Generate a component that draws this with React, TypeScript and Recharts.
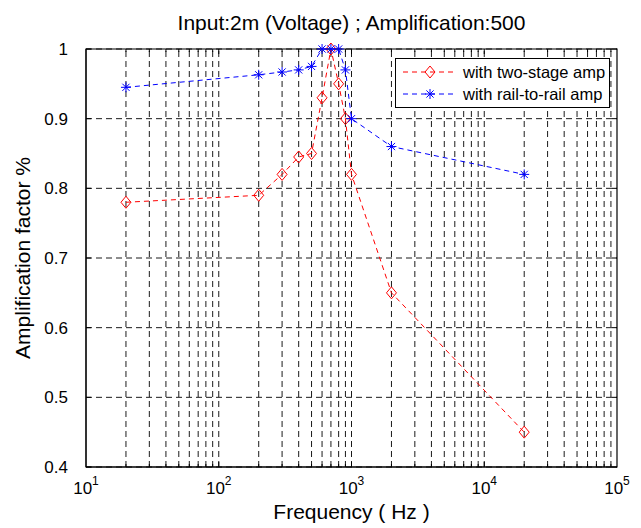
import React from "react";
import {
  LineChart, Line, XAxis, YAxis, CartesianGrid, ReferenceLine, ReferenceArea,
} from "recharts";

const FONT = "'Liberation Sans', Arial, Helvetica, sans-serif";

// two-stage amp (red diamonds)
const freqTwoStage = [20, 200, 300, 400, 500, 600, 700, 800, 900, 1000, 2000, 20000];
const ampTwoStage = [0.78, 0.79, 0.82, 0.845, 0.85, 0.93, 1.0, 0.95, 0.9, 0.82, 0.65, 0.45];

// rail-to-rail amp (blue stars)
const freqRail = [20, 200, 300, 400, 500, 600, 700, 800, 900, 1000, 2000, 20000];
const ampRail = [0.945, 0.963, 0.967, 0.97, 0.975, 1.0, 1.0, 1.0, 0.97, 0.9, 0.86, 0.82];

const xTicks = [10, 100, 1000, 10000, 100000];
const yTicks = [0.4, 0.5, 0.6, 0.7, 0.8, 0.9, 1];

// log grid: 2..9 x each decade plus the decades themselves
const xGrid: number[] = [];
for (let d = 10; d < 100000; d *= 10) {
  for (let m = 1; m <= 9; m++) if (!(d === 10 && m === 1)) xGrid.push(d * m);
}

const twoStage = freqTwoStage.map((x, i) => ({ x, y: ampTwoStage[i] }));
const rail = freqRail.map((x, i) => ({ x, y: ampRail[i] }));

const RED = "#ff0000";
const BLUE = "#0000ff";

// plot box
const W = 641, H = 528;
const L = 86, R = 617, T = 49, B = 467;
const PX_Y = 0.6 / (B - T); // value per pixel on y
const PX_X = 4 / (R - L);   // decades per pixel on x

function Diamond({ cx, cy, stroke = RED }: any) {
  if (cx == null || cy == null) return null;
  return (
    <polygon
      points={`${cx},${cy - 6} ${cx + 5},${cy} ${cx},${cy + 6} ${cx - 5},${cy}`}
      fill="none" stroke={stroke} strokeWidth={1}
    />
  );
}

function Star({ cx, cy, stroke = BLUE }: any) {
  if (cx == null || cy == null) return null;
  const r = 5, d = 3.6;
  return (
    <g stroke={stroke} strokeWidth={1}>
      <line x1={cx - r} y1={cy} x2={cx + r} y2={cy} />
      <line x1={cx} y1={cy - r} x2={cx} y2={cy + r} />
      <line x1={cx - d} y1={cy - d} x2={cx + d} y2={cy + d} />
      <line x1={cx - d} y1={cy + d} x2={cx + d} y2={cy - d} />
    </g>
  );
}

function PowTick({ x, y, payload }: any) {
  const exp = Math.round(Math.log10(payload.value));
  return (
    <text x={x} y={y + 19} textAnchor="middle" fontFamily={FONT} fontSize={17} fill="#000">
      <tspan>10</tspan>
      <tspan dy={-9} fontSize={12}>{exp}</tspan>
    </text>
  );
}

function LegendBox() {
  const row = (color: string, marker: React.ReactNode, label: string) => (
    <div style={{ display: "flex", alignItems: "center", height: 22 }}>
      <svg width={56} height={16} style={{ marginRight: 6 }}>
        <line x1={2} y1={8} x2={54} y2={8} stroke={color} strokeDasharray="5 4" />
        {marker}
      </svg>
      <span style={{ fontFamily: FONT, fontSize: 16.5, color: "#000" }}>{label}</span>
    </div>
  );
  return (
    <div style={{
      position: "absolute", left: 395, top: 58, width: 215, height: 50,
      border: "1px solid #000", background: "#fff", padding: "2px 0 0 5px",
      boxSizing: "border-box",
    }}>
      {row(RED, <Diamond cx={29} cy={8} />, "with two-stage amp")}
      {row(BLUE, <Star cx={29} cy={8} />, "with rail-to-rail amp")}
    </div>
  );
}

export default function App() {
  // small inside tick marks on the box edges
  const majY = 5 * PX_Y, minY = 3 * PX_Y;
  const tickX = (px: number) => 10 * Math.pow(10, px * PX_X);
  const tickXr = (px: number) => 100000 / Math.pow(10, px * PX_X);

  return (
    <div style={{ position: "absolute", left: 0, top: 0, width: W, height: H, background: "#fff" }}>
      <LineChart
        width={W}
        height={H}
        margin={{ top: T, right: W - R, bottom: 21, left: 26 }}
      >
        <CartesianGrid
          vertical={false}
          stroke="#000"
          strokeDasharray="6 4"
          strokeWidth={0.9}
        />
        {xGrid.map((v) => (
          <ReferenceLine
            key={v}
            x={v}
            stroke="#000"
            strokeWidth={0.9}
            strokeDasharray="6 4"
            ifOverflow="hidden"
          />
        ))}
        {xGrid.map((v) => {
          const len = xTicks.includes(v) ? majY : minY;
          return (
            <React.Fragment key={"t" + v}>
              <ReferenceLine segment={[{ x: v, y: 0.4 }, { x: v, y: 0.4 + len }]} stroke="#000" />
              <ReferenceLine segment={[{ x: v, y: 1 }, { x: v, y: 1 - len }]} stroke="#000" />
            </React.Fragment>
          );
        })}
        {yTicks.map((v) => (
          <React.Fragment key={"y" + v}>
            <ReferenceLine segment={[{ x: 10, y: v }, { x: tickX(5), y: v }]} stroke="#000" />
            <ReferenceLine segment={[{ x: 100000, y: v }, { x: tickXr(5), y: v }]} stroke="#000" />
          </React.Fragment>
        ))}
        <XAxis
          dataKey="x"
          type="number"
          scale="log"
          domain={[10, 100000]}
          ticks={xTicks}
          allowDataOverflow
          height={40}
          tick={<PowTick />}
          tickLine={false}
          axisLine={{ stroke: "#000" }}
        />
        <YAxis
          dataKey="y"
          type="number"
          domain={[0.4, 1]}
          ticks={yTicks}
          width={60}
          tickLine={false}
          axisLine={{ stroke: "#000" }}
          tick={{ fontFamily: FONT, fontSize: 17, fill: "#000" }}
          tickMargin={12}
        />
        <ReferenceArea
          x1={10} x2={100000} y1={0.4} y2={1}
          fill="none" stroke="#000" strokeWidth={1.2}
        />
        <Line
          data={twoStage}
          dataKey="y"
          stroke={RED}
          strokeWidth={1}
          strokeDasharray="5 4"
          dot={(p: any) => <Diamond key={p.index} cx={p.cx} cy={p.cy} />}
          isAnimationActive={false}
        />
        <Line
          data={rail}
          dataKey="y"
          stroke={BLUE}
          strokeWidth={1}
          strokeDasharray="5 4"
          dot={(p: any) => <Star key={p.index} cx={p.cx} cy={p.cy} />}
          isAnimationActive={false}
        />
      </LineChart>
      <svg width={W} height={H} style={{ position: "absolute", left: 0, top: 0, pointerEvents: "none" }}>
        <text x={(L + R) / 2} y={30} textAnchor="middle" fontFamily={FONT} fontSize={21} fill="#000">
          Input:2m (Voltage) ; Amplification:500
        </text>
        <text x={(L + R) / 2} y={519} textAnchor="middle" fontFamily={FONT} fontSize={21} fill="#000">
          Frequency ( Hz )
        </text>
        <text
          x={0} y={0}
          transform={`translate(30, ${(T + B) / 2}) rotate(-90)`}
          textAnchor="middle" fontFamily={FONT} fontSize={21} fill="#000"
        >
          Amplification factor %
        </text>
      </svg>
      <LegendBox />
    </div>
  );
}
